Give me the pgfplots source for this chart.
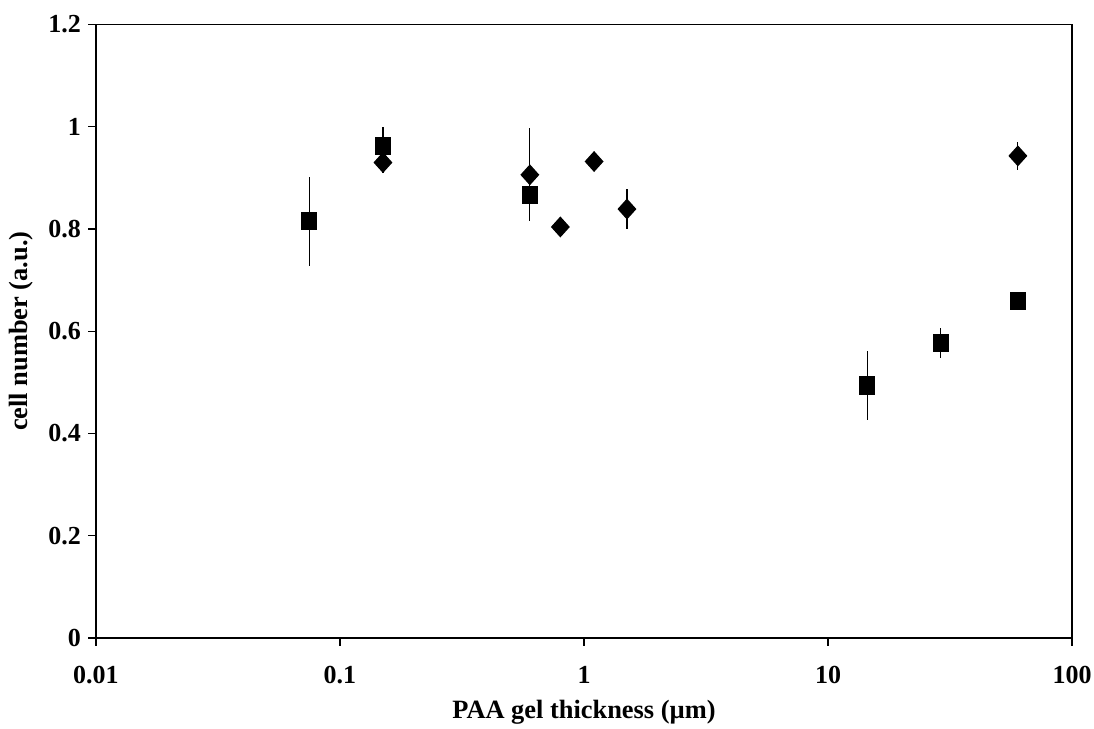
\documentclass[border=0pt]{standalone}
\usepackage{pgfplots}
\pgfplotsset{compat=1.18}
\usepackage{fontspec}
\setmainfont{Liberation Serif}
\begin{document}
\begin{tikzpicture}
\useasboundingbox (-48pt,-45.5pt) rectangle (499pt,319pt);
\begin{axis}[
  at={(0,0)}, anchor=south west,
  scale only axis, width=488pt, height=306.75pt,
  xmode=log, xmin=0.01, xmax=100, ymin=0, ymax=1.2,
  xtick={0.01,0.1,1,10,100}, xticklabels={0.01,0.1,1,10,100},
  ytick={0,0.2,0.4,0.6,0.8,1,1.2}, yticklabels={0,0.2,0.4,0.6,0.8,1,1.2},
  minor xtick={}, minor ytick={},
  xminorticks=false,
  tick align=outside, tick pos=left,
  major tick length=4pt,
  axis line style={line width=0.6pt},
  tick style={line width=0.6pt, black},
  every axis plot/.append style={line width=0.6pt},
  /pgf/number format/assume math mode=true,
  tick label style={font=\fontsize{13}{15}\selectfont\bfseries},
  xticklabel style={yshift=-6.5pt},
  label style={font=\fontsize{13.2}{15}\selectfont\bfseries},
  xlabel={PAA gel thickness (µm)},
  ylabel={cell number (a.u.)},
  xlabel style={at={(axis description cs:0.5,0)}, anchor=center, yshift=-37pt},
  ylabel style={at={(axis description cs:-0.077,0.5)}, anchor=center},
  clip=false,
]
\addplot[only marks, mark=diamond*, mark size=4.8pt, mark options={xscale=1.2, fill=black, draw=black},
  error bars/.cd, y dir=both, y explicit, error mark=none, error bar style={line width=0.6pt, black}]
  table[x=x, y=y, y error=e] {
x y e
0.15 0.930 0.02
0.6 0.906 0.091
0.8 0.804 0.01
1.1 0.932 0.01
1.5 0.839 0.039
60 0.943 0.027
};
\addplot[only marks, mark=square*, mark size=3.7pt, mark options={yscale=1.15, fill=black, draw=black},
  error bars/.cd, y dir=both, y explicit, error mark=none, error bar style={line width=0.6pt, black}]
  table[x=x, y=y, y error=e] {
x y e
0.075 0.815 0.087
0.15 0.962 0.037
0.6 0.867 0.05
14.5 0.494 0.068
29 0.577 0.03
60 0.659 0.0
};
\end{axis}
\end{tikzpicture}
\end{document}
